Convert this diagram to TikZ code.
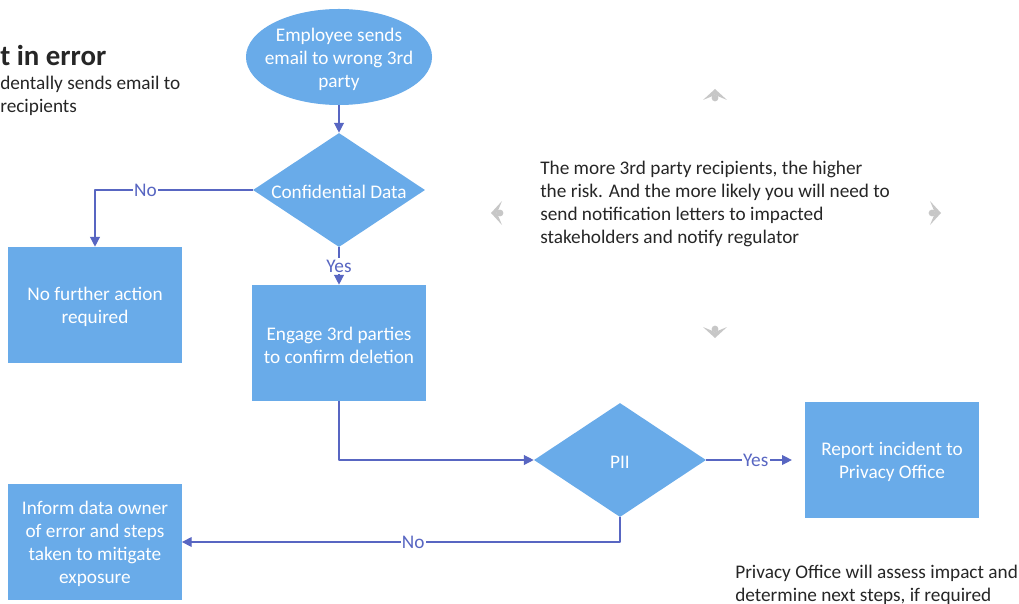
\documentclass[tikz,border=0pt]{standalone}
\usepackage{fontspec}
\setmainfont{Carlito}
\usetikzlibrary{shapes.geometric,arrows.meta}
\definecolor{boxblue}{HTML}{69ABE9}
\definecolor{linkblue}{HTML}{5866C2}
\begin{document}
\begin{tikzpicture}[x=0.025cm,y=-0.025cm,>={Triangle[length=7pt,width=7pt]},line join=round,
	font=\fontsize{13.7}{16.4}\selectfont,
	blk/.style={fill=boxblue,text=white,align=center,inner sep=0pt},
	box/.style={blk,rectangle,minimum width=4.33cm,minimum height=2.9cm},
	dec/.style={blk,diamond,minimum width=4.3cm,minimum height=2.85cm},
	start/.style={blk,ellipse,minimum width=4.65cm,minimum height=2.4cm},
	inside/.style={white,align=center,yshift=-0.05cm},
	link/.style={draw=linkblue,line width=0.9pt},
	lbl/.style={fill=white,text=linkblue,inner sep=1pt},
	note/.style={align=left,text=black!85,inner sep=0pt},
	grip/.style={fill=black!22,draw=none}]
	\useasboundingbox (0,0) rectangle (1019,604);
	\clip (0,0) rectangle (1019,604);
	% flow
	\node[start,label={[inside]center:Employee sends\\email to wrong 3rd\\party}] (send) at (339,57) {};
	\node[dec,label={[inside]center:Confidential Data}] (conf) at (339,190) {};
	\node[box,label={[inside]center:No further action\\required}] (stop) at (95,305) {};
	\node[box,label={[inside]center:Engage 3rd parties\\to confirm deletion}] (engage) at (339,343) {};
	\node[dec,label={[inside]center:PII}] (pii) at (620,460) {};
	\node[box,label={[inside]center:Report incident to\\Privacy Office}] (report) at (892,460) {};
	\node[box,label={[inside]center:Inform data owner\\of error and steps\\taken to mitigate\\exposure}] (inform) at (95,542) {};
	% notes
	\node[note,anchor=base west,font=\fontsize{20.5}{24}\selectfont\bfseries] (title) at (0,66) {t in error};
	\node[note,anchor=north west] (sub) at (0,76) {dentally sends email to\\recipients};
	\node[note,anchor=north west] (risk) at (540,161) {The more 3rd party recipients, the higher\\the risk. And the more likely you will need to\\send notification letters to impacted\\stakeholders and notify regulator};
	\node[note,anchor=north west] (privacy) at (735,565) {Privacy Office will assess impact and\\determine next steps, if required};
	\foreach \x/\y/\r in {715/95/0,497/213/90,935/213/-90,715/332/180}
		\fill[grip,shift={(\x,\y)},rotate=\r] (-12,5)--(0,-6)--(12,5)--(0,0)--cycle (0,3) circle (2.4pt);
	% connectors
	\draw[link,->] (send) -- (conf);
	\draw[link,->] (conf.west) -| node[lbl,pos=0.34]{No} (stop.north);
	\draw[link,->] (conf.south) -- node[lbl]{Yes} (engage.north);
	\draw[link,->] (engage.south) |- (pii.west);
	\draw[link,->,shorten >=0.33cm] (pii.east) -- node[lbl]{Yes} (report.west);
	\draw[link,->] (pii.south) |- node[lbl,pos=0.736]{No} (inform.east);
\end{tikzpicture}
\end{document}
